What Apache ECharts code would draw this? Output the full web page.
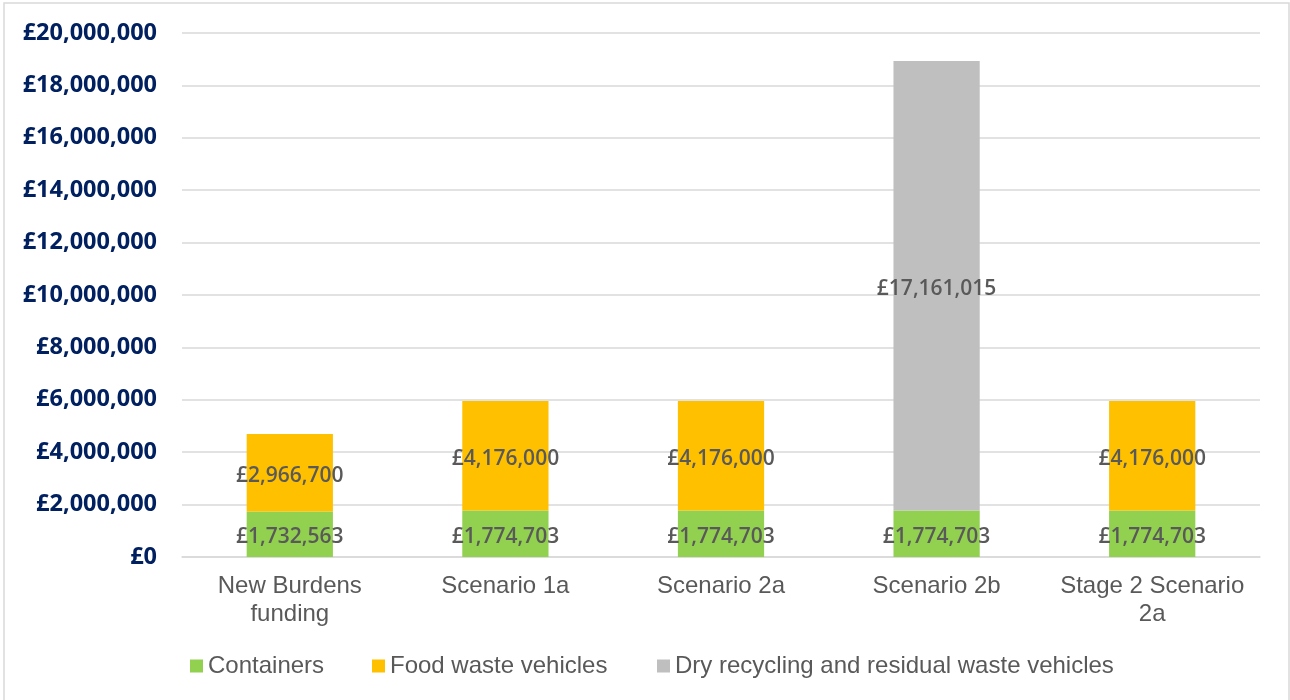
<!DOCTYPE html>
<html>
<head>
<meta charset="utf-8">
<script src="https://cdn.jsdelivr.net/npm/echarts@6/dist/echarts.min.js"></script>
<style>
html,body{margin:0;padding:0;background:#fff;}
#chart{width:1290px;height:700px;}
</style>
</head>
<body>
<div id="chart"></div>
<script>
var categories = ['New Burdens\nfunding', 'Scenario 1a', 'Scenario 2a', 'Scenario 2b', 'Stage 2 Scenario\n2a'];
var containers = [1732563, 1774703, 1774703, 1774703, 1774703];
var foodWaste = [2966700, 4176000, 4176000, null, 4176000];
var dryRecycling = [null, null, null, 17161015, null];
var seriesNames = ['Containers', 'Food waste vehicles', 'Dry recycling and residual waste vehicles'];
var yTicks = { min: 0, max: 20000000, interval: 2000000 };

function gbp(v) {
  return '£' + Math.round(v).toString().replace(/\B(?=(\d{3})+(?!\d))/g, ',');
}

var labelStyle = {
  show: true,
  position: 'inside',
  offset: [0, 3],
  fontFamily: 'Open Sans',
  fontWeight: 600,
  fontSize: 21,
  color: '#595959',
  formatter: function (p) { return p.value == null ? '' : gbp(p.value); }
};

var chart = echarts.init(document.getElementById('chart'), null, { renderer: 'canvas' });
chart.setOption({
  animation: false,
  backgroundColor: '#ffffff',
  graphic: [{
    type: 'rect',
    shape: { x: 4, y: 3, width: 1285, height: 720 },
    style: { fill: 'none', stroke: '#d9d9d9', lineWidth: 1.5 },
    silent: true
  }],
  grid: { left: 182, right: 30, top: 33, bottom: 143, containLabel: false },
  legend: [0, 1, 2].map(function (i) {
    return {
      data: [seriesNames[i]],
      left: [190, 372, 657][i],
      top: 654,
      padding: 0,
      itemWidth: 13,
      itemHeight: 13,
      itemGap: 0,
      icon: 'rect',
      textStyle: { fontFamily: 'Liberation Sans', fontSize: 24, color: '#595959' },
      selectedMode: false
    };
  }),
  xAxis: {
    type: 'category',
    data: categories,
    axisLine: { show: true, lineStyle: { color: '#d9d9d9', width: 1.5 } },
    axisTick: { show: false },
    axisLabel: {
      interval: 0,
      margin: 15,
      fontFamily: 'Liberation Sans',
      fontSize: 24,
      lineHeight: 28,
      color: '#595959'
    }
  },
  yAxis: {
    type: 'value',
    min: yTicks.min,
    max: yTicks.max,
    interval: yTicks.interval,
    axisLine: { show: false },
    axisTick: { show: false },
    splitLine: { lineStyle: { color: '#d9d9d9', width: 1.5 } },
    axisLabel: {
      margin: 25,
      fontFamily: 'Open Sans',
      fontWeight: 'bold',
      fontSize: 23.5,
      color: '#002060',
      formatter: function (v) { return gbp(v); }
    }
  },
  series: [
    { name: seriesNames[0], type: 'bar', stack: 'total', data: containers, barWidth: '40%', itemStyle: { color: '#92D050' }, label: labelStyle },
    { name: seriesNames[1], type: 'bar', stack: 'total', data: foodWaste, barWidth: '40%', itemStyle: { color: '#FFC000' }, label: labelStyle },
    { name: seriesNames[2], type: 'bar', stack: 'total', data: dryRecycling, barWidth: '40%', itemStyle: { color: '#BFBFBF' }, label: labelStyle }
  ]
});
</script>
</body>
</html>
